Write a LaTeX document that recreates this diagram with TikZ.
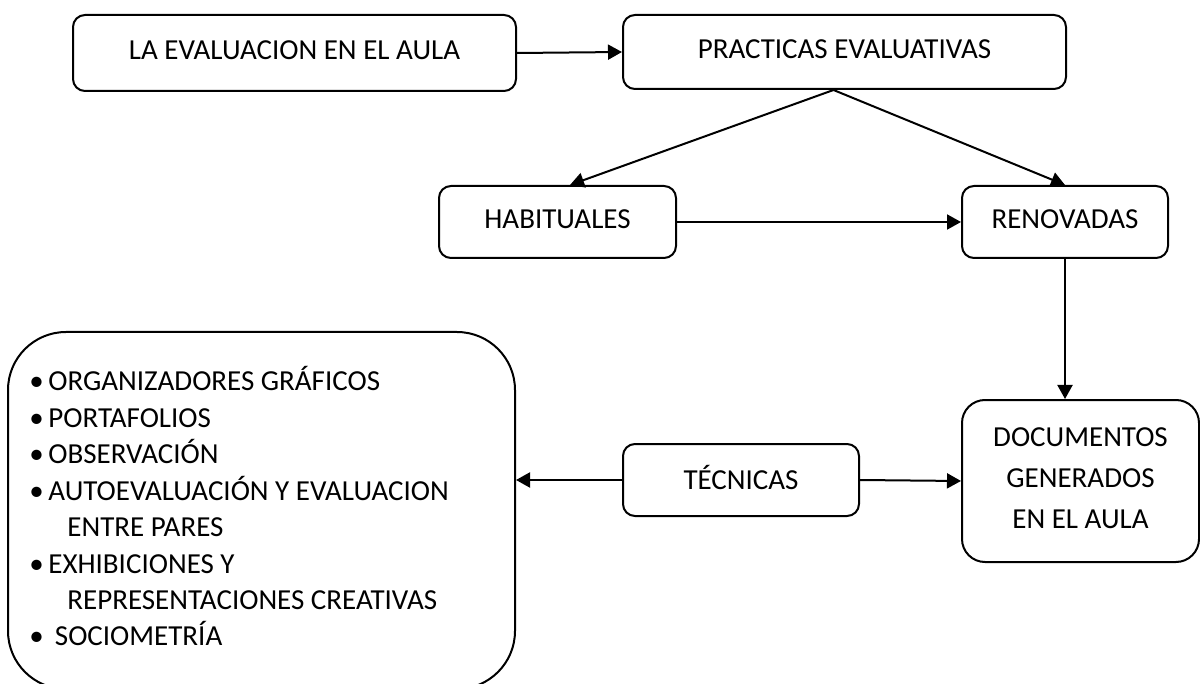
\documentclass[tikz,border=0pt]{standalone}
\usepackage{fontspec}
\setmainfont{Carlito}
\usetikzlibrary{arrows.meta,calc}
\newcommand{\blt}{\makebox[9.5pt][l]{\textbullet}}
\begin{document}
\begin{tikzpicture}[x=0.5pt,y=-0.5pt,
  box/.style={draw,line width=1pt,rounded corners=6pt,inner sep=0pt,
    font=\fontsize{14.5}{20.5}\selectfont,text depth=3pt,align=center},
  arr/.style={line width=1pt,-{Triangle[length=7pt,width=7.5pt]}},
  itm/.style={anchor=base west,inner sep=0pt,font=\fontsize{14.5}{18}\selectfont}]
\useasboundingbox (0,0) rectangle (1200,684);
% boxes
\node[box,minimum width=221.5pt,minimum height=38pt] (b1) at (294.5,53) {LA EVALUACION EN EL AULA};
\node[box,minimum width=221.5pt,minimum height=37pt] (b2) at (844.5,52) {PRACTICAS EVALUATIVAS};
\node[box,minimum width=118.5pt,minimum height=36pt] (hab) at (557.5,222) {HABITUALES};
\node[box,minimum width=103pt,minimum height=36pt] (ren) at (1065,222) {RENOVADAS};
\node[box,rounded corners=11.5pt,minimum width=118.5pt,minimum height=81pt] (doc) at (1080.5,481) {DOCUMENTOS\\GENERADOS\\EN EL AULA};
\node[box,minimum width=118pt,minimum height=36pt] (tec) at (741,480) {TÉCNICAS};
\node[draw,line width=1pt,rounded corners=29pt,inner sep=0pt,minimum width=253.5pt,minimum height=178.5pt] (big) at (261.5,510.5) {};
% list
\node[itm] (l1) at (29,391) {\blt ORGANIZADORES GRÁFICOS};
\node[itm] (l2) at (29,427.4) {\blt PORTAFOLIOS};
\node[itm] (l3) at (29,463.8) {\blt OBSERVACIÓN};
\node[itm] (l4) at (29,500.2) {\blt AUTOEVALUACIÓN Y EVALUACION};
\node[itm] (l5) at (67,536.6) {ENTRE PARES};
\node[itm] (l6) at (29,573) {\blt EXHIBICIONES Y};
\node[itm] (l7) at (67,609.4) {REPRESENTACIONES CREATIVAS};
\node[itm] (l8) at (29,645.8) {\blt\ SOCIOMETRÍA};
% connectors
\coordinate (fk) at ($(b2.south)+(-11,0)$);
\draw[arr] (b1.east) -- (b2.west);
\draw[arr] (fk) -- ($(hab.north)+(12.5,0)$);
\draw[arr] (fk) -- (ren.north);
\draw[arr] (hab.east) -- (ren.west);
\draw[arr] (ren.south) -- (ren.south |- doc.north);
\draw[arr] (tec.west) -- (tec.west -| big.east);
\draw[arr] (tec.east) -- (doc.west);
\end{tikzpicture}
\end{document}
